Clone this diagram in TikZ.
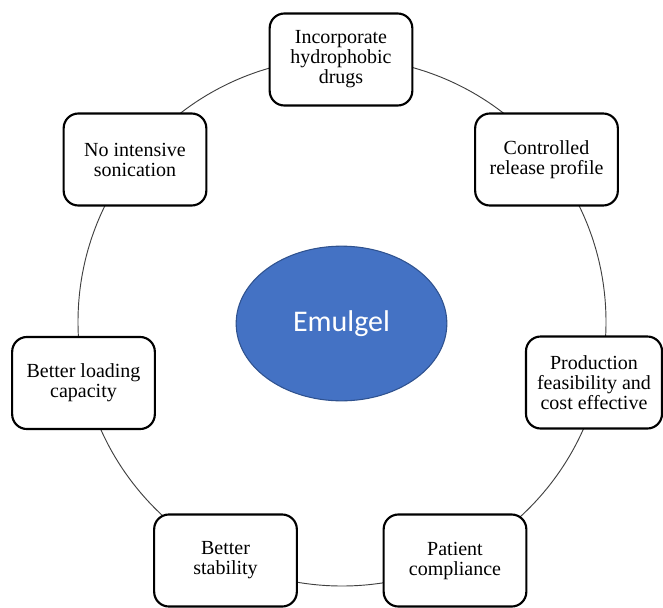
\documentclass[tikz,border=0pt]{standalone}
\usepackage{fontspec}
\setmainfont{Liberation Serif}
\newfontfamily\calibrifont{Carlito}
\usetikzlibrary{shapes.geometric}
\definecolor{emublue}{HTML}{4472C4}
\definecolor{emuedge}{HTML}{2F528F}

\begin{document}
\begin{tikzpicture}[
			x=0.75pt, y=-0.75pt,
			benefit/.style={draw, rectangle, rounded corners=11pt, line width=1.6pt, fill=white, minimum width=107pt, minimum height=69pt, align=center, inner sep=2pt, font=\fontsize{15}{15}\selectfont},
			core/.style={draw=emuedge, ellipse, fill=emublue, line width=0.8pt, minimum width=158pt, minimum height=116pt, text=white, font=\calibrifont\fontsize{22.5}{27}\selectfont},
			ring/.style={draw=black!75, line width=0.7pt}
			]
			\useasboundingbox (0,0) rectangle (663,607);
			
			% Ring
			\coordinate (hub) at (342,322);
			\draw[ring] (hub) circle[radius=264];
			
			% Centre
			\node[core] (emulgel) at (341.5,323.5) {Emulgel};
			
			% Benefits
			\node[benefit] (hydrophobic) at (341,59.5) {Incorporate\\hydrophobic\\drugs};
			\node[benefit] (release) at (546.5,159.5) {Controlled\\release profile};
			\node[benefit, minimum width=102pt] (feasibility) at (594,382.5) {Production\\feasibility and\\cost effective};
			\node[benefit] (compliance) at (455,560.5) {Patient\\compliance};
			\node[benefit] (stability) at (225.5,560.5) {Better\\stability};
			\node[benefit] (loading) at (83.5,383) {Better loading\\capacity};
			\node[benefit] (sonication) at (135,159.5) {No intensive\\sonication};
		\end{tikzpicture}
\end{document}
